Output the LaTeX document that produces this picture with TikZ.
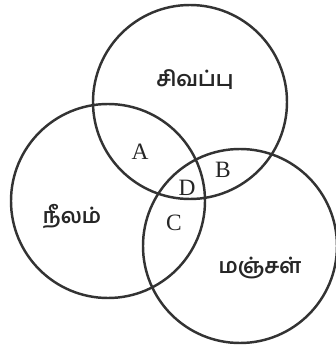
\documentclass[tikz,border=0pt]{standalone}
\usepackage{fontspec}
\setmainfont{Liberation Serif}
\newfontfamily\tamilfont[Script=Tamil]{Hind Madurai}
\usepackage{tikz}
\usetikzlibrary{positioning}

\begin{document}
\begin{tikzpicture}[
        x=0.03cm, y=0.03cm,
        set/.style={circle, draw=black!80, line width=2.1pt, minimum size=5.82cm, inner sep=0pt},
        setname/.style={font=\tamilfont\bfseries\fontsize{18}{20}\selectfont, text=black!85},
        region/.style={font=\fontsize{20}{22}\selectfont, text=black!85, inner sep=0pt}
    ]
    \useasboundingbox (0,0) rectangle (336,351);

    % Circles
    \node (red) [set] at (190,249) {};
    \node (blue) [set] at (108,150) {};
    \node (yellow) [set] at (240,105) {};

    % Set names
    \node (red_name) [setname] at (195,271) {சிவப்பு};
    \node (blue_name) [setname] at (72,134) {நீலம்};
    \node (yellow_name) [setname] at (260,83) {மஞ்சள்};

    % Regions
    \node (region_a) [region] at (140,199) {A};
    \node (region_b) [region] at (223,181) {B};
    \node (region_d) [region] at (187,163) {D};
    \node (region_c) [region] at (174,128) {C};

\end{tikzpicture}
\end{document}
